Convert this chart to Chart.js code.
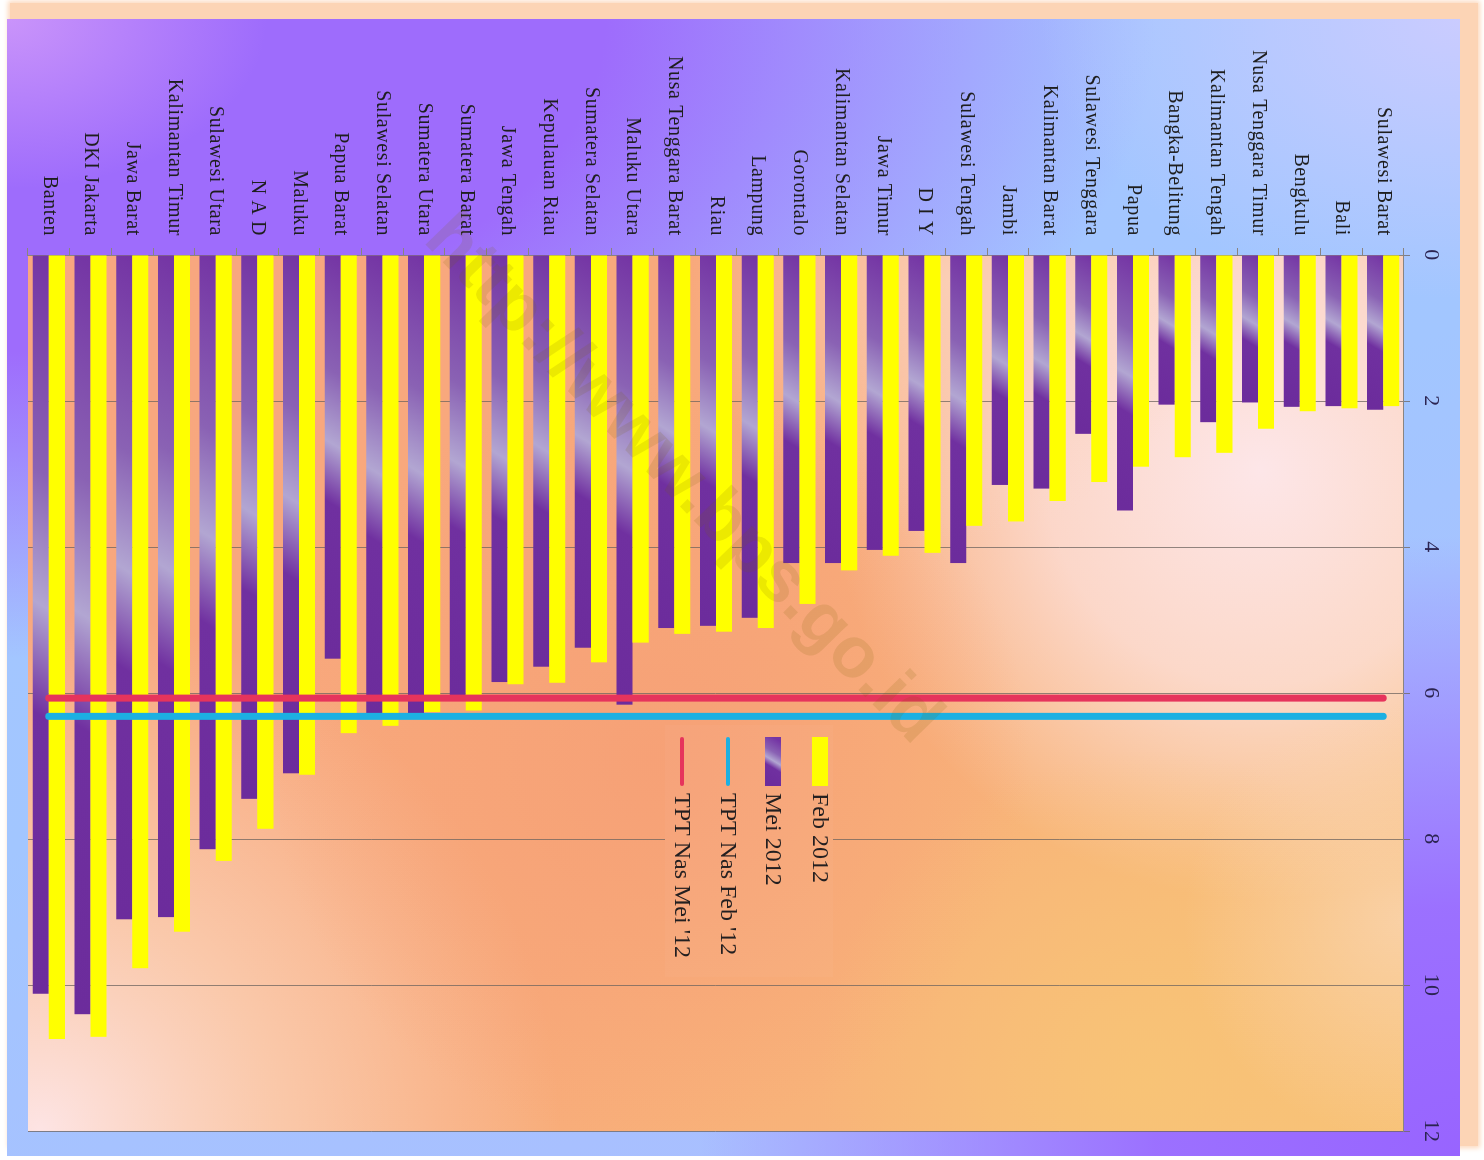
<!DOCTYPE html>
<html>
<head>
<meta charset="utf-8">
<script src="https://cdn.jsdelivr.net/npm/chart.js"></script>
<style>
  html, body { margin: 0; padding: 0; background: #fff; overflow: hidden; width: 1484px; height: 1160px; }
  #shadow { position: absolute; left: 10px; top: 3px; width: 1468px; height: 1143px; background: #fcd4b5; box-shadow: 0 0 5px 2px #fcd8bc; }
  #bg {
    position: absolute; left: 7px; top: 19px; width: 1453px; height: 1137px;
    background:
      radial-gradient(ellipse 260px 170px at 0% 0%, rgba(204,150,250,0.95), rgba(204,150,250,0)),
      radial-gradient(ellipse 420px 280px at 100% 0%, rgba(204,204,255,0.95), rgba(204,204,255,0)),
      radial-gradient(ellipse 1150px 640px at 0% 0%, rgba(158,108,252,1) 0%, rgba(158,108,252,1) 52%, rgba(158,108,252,0) 100%),
      radial-gradient(ellipse 760px 620px at 100% 100%, rgba(152,100,255,1) 0%, rgba(154,104,255,0.9) 40%, rgba(154,104,255,0) 100%),
      linear-gradient(160deg, #a6c6ff 0%, #a2c6ff 50%, #acbcff 100%);
  }
  #wrap { position: absolute; left: 0; top: 0; width: 1160px; height: 1484px; transform-origin: 0 0; transform: translate(1484px, 0) rotate(90deg); }
</style>
</head>
<body>
<div id="shadow"></div>
<div id="bg"></div>
<div id="wrap"><canvas id="myChart" width="1160" height="1484"></canvas></div>
<script>
const regions = ['Banten', 'DKI Jakarta', 'Jawa Barat', 'Kalimantan Timur', 'Sulawesi Utara', 'N A D', 'Maluku',
  'Papua Barat', 'Sulawesi Selatan', 'Sumatera Utara', 'Sumatera Barat', 'Jawa Tengah', 'Kepulauan Riau',
  'Sumatera Selatan', 'Maluku Utara', 'Nusa Tenggara Barat', 'Riau', 'Lampung', 'Gorontalo', 'Kalimantan Selatan',
  'Jawa Timur', 'D I Y', 'Sulawesi Tengah', 'Jambi', 'Kalimantan Barat', 'Sulawesi Tenggara', 'Papua',
  'Bangka-Belitung', 'Kalimantan Tengah', 'Nusa Tenggara Timur', 'Bengkulu', 'Bali', 'Sulawesi Barat']

const feb2012 = [10.74, 10.71, 9.77, 9.27, 8.30, 7.86, 7.12, 6.55, 6.45, 6.26, 6.24, 5.88, 5.86, 5.58, 5.31, 5.19, 5.16,
  5.11, 4.78, 4.32, 4.12, 4.08, 3.71, 3.65, 3.37, 3.11, 2.90, 2.77, 2.71, 2.38, 2.14, 2.10, 2.07]
const mei2012 = [10.12, 10.40, 9.10, 9.07, 8.14, 7.45, 7.10, 5.53, 6.30, 6.28, 6.08, 5.85, 5.64, 5.38, 6.16, 5.11, 5.08,
  4.97, 4.22, 4.22, 4.04, 3.78, 4.22, 3.15, 3.20, 2.45, 3.50, 2.05, 2.29, 2.02, 2.08, 2.07, 2.12]

const tptNasFeb = 6.32
const tptNasMei = 6.07
const valueTicks = [0, 2, 4, 6, 8, 10, 12]

const yellowColor = '#ffff00'
const purpleColor = '#7030a0'
const blueLineColor = '#1cb0e2'
const redLineColor = '#e6345c'
const gridColor = 'rgba(110, 100, 95, 0.75)'
const axisColor = '#8a8480'
const serif = '"Liberation Serif", "Times New Roman", serif'

// the canvas is drawn upright and turned a quarter turn by css
const H = 1484

function purpleFill(ctx, x0, x1, yc) {
  const len = x1 - x0
  const k = 0.6
  const a = len / (1 + k * k)
  const g = ctx.createLinearGradient(x0, yc, x0 + a, yc + k * a)
  g.addColorStop(0, '#7434a4')
  g.addColorStop(0.3, '#8a62b4')
  g.addColorStop(0.48, '#b2a6d2')
  g.addColorStop(0.63, '#7030a0')
  g.addColorStop(1, '#6c2c9c')
  return g
}

function meiBackground(context) {
  const chart = context.chart
  if (context.type !== 'data' || !chart.chartArea) return purpleColor
  const xs = chart.scales.x
  const ys = chart.scales.y
  return purpleFill(chart.ctx, xs.getPixelForValue(0), xs.getPixelForValue(context.raw), ys.getPixelForValue(context.dataIndex))
}

function radial(ctx, x, y, r, stops) {
  const g = ctx.createRadialGradient(x, y, 0, x, y, r)
  stops.forEach(s => g.addColorStop(s[0], s[1]))
  return g
}

// paints the plot background in screen coordinates, clipped to a screen rect
function paintPlot(chart, clipX, clipY, clipW, clipH) {
  const ctx = chart.ctx
  const area = chart.chartArea
  const X0 = H - area.bottom, X1 = H - area.top, Y0 = area.left, Y1 = area.right
  ctx.save()
  ctx.transform(0, -1, 1, 0, 0, H)
  ctx.beginPath()
  ctx.rect(clipX, clipY, clipW, clipH)
  ctx.clip()
  const base = ctx.createLinearGradient(X0, Y0, X1, Y1)
  base.addColorStop(0, '#f8a680')
  base.addColorStop(0.5, '#f8aa7a')
  base.addColorStop(1, '#f8c278')
  ctx.fillStyle = base
  ctx.fillRect(X0, Y0, X1 - X0, Y1 - Y0)
  const layers = [
    [1260, 470, 430, [[0, 'rgba(253,230,232,1)'], [0.5, 'rgba(253,228,228,0.75)'], [1, 'rgba(253,228,228,0)']]],
    [950, 280, 260, [[0, 'rgba(251,212,190,0.8)'], [1, 'rgba(251,212,190,0)']]],
    [40, 1131, 520, [[0, 'rgba(253,228,228,1)'], [0.45, 'rgba(251,214,190,0.7)'], [1, 'rgba(251,214,190,0)']]],
    [650, 760, 380, [[0, 'rgba(246,160,118,0.9)'], [1, 'rgba(246,160,118,0)']]],
    [1150, 1080, 330, [[0, 'rgba(248,196,118,0.9)'], [1, 'rgba(248,196,118,0)']]],
    [1404, 920, 220, [[0, 'rgba(250,216,184,0.7)'], [1, 'rgba(250,216,184,0)']]]
  ]
  layers.forEach(l => {
    ctx.fillStyle = radial(ctx, l[0], l[1], l[2], l[3])
    ctx.fillRect(X0, Y0, X1 - X0, Y1 - Y0)
  })
  ctx.restore()
}

const legendBox = { x: 725, y: 651, w: 252, h: 168 }
const legendRows = [664, 711, 756, 802]

const decorPlugin = {
  id: 'decor',
  beforeDraw(chart) {
    const a = chart.chartArea
    paintPlot(chart, H - a.bottom, a.left, a.bottom - a.top, a.right - a.left)
    chart.ctx.letterSpacing = '0.6px'
  },
  afterDraw(chart) {
    const ctx = chart.ctx
    ctx.letterSpacing = '0px'
    // legend patch
    paintPlot(chart, H - legendBox.y - legendBox.h, legendBox.x, legendBox.h, legendBox.w)
    ctx.save()
    ctx.fillStyle = 'rgba(255,255,255,0.03)'
    ctx.fillRect(legendBox.x, legendBox.y, legendBox.w, legendBox.h)
    chart.data.datasets.forEach((ds, i) => {
      const yc = legendRows[i]
      const kx0 = 737, kx1 = 786
      if (ds.type === 'line') {
        ctx.strokeStyle = ds.borderColor
        ctx.lineWidth = 4
        ctx.lineCap = 'round'
        ctx.beginPath()
        ctx.moveTo(kx0 + 2, yc)
        ctx.lineTo(kx1 - 2, yc)
        ctx.stroke()
      } else {
        ctx.fillStyle = i === 1 ? purpleFill(ctx, kx0, kx1, yc) : ds.backgroundColor
        ctx.fillRect(kx0, yc - 8, kx1 - kx0, 16)
      }
      ctx.fillStyle = '#231f20'
      ctx.font = '24px ' + serif
      ctx.textAlign = 'left'
      ctx.textBaseline = 'middle'
      ctx.fillText(ds.label, 793, yc + 1)
    })
    ctx.restore()

    // watermark
    ctx.save()
    ctx.transform(0, -1, 1, 0, 0, H)
    ctx.translate(682, 480)
    ctx.rotate(45.8 * Math.PI / 180)
    ctx.font = 'bold 72px "Liberation Sans", Arial, sans-serif'
    ctx.fillStyle = 'rgba(120, 100, 0, 0.14)'
    ctx.textAlign = 'center'
    ctx.textBaseline = 'middle'
    ctx.fillText('http://www.bps.go.id', 0, 0)
    ctx.restore()
  }
}

const ctx = document.getElementById('myChart')

new Chart(ctx, {
  type: 'bar',
  data: {
    labels: regions,
    datasets: [
      { label: 'Feb 2012', data: feb2012, backgroundColor: yellowColor, categoryPercentage: 0.77, barPercentage: 1, order: 2 },
      { label: 'Mei 2012', data: mei2012, backgroundColor: meiBackground, categoryPercentage: 0.77, barPercentage: 1, order: 2 },
      {
        type: 'line', label: "TPT Nas Feb '12", indexAxis: 'y',
        data: [{ x: tptNasFeb, y: regions[0] }, { x: tptNasFeb, y: regions[regions.length - 1] }],
        borderColor: blueLineColor, borderWidth: 7, borderCapStyle: 'round', pointRadius: 0, order: 1
      },
      {
        type: 'line', label: "TPT Nas Mei '12", indexAxis: 'y',
        data: [{ x: tptNasMei, y: regions[0] }, { x: tptNasMei, y: regions[regions.length - 1] }],
        borderColor: redLineColor, borderWidth: 7, borderCapStyle: 'round', pointRadius: 0, order: 1
      }
    ]
  },
  options: {
    indexAxis: 'y',
    responsive: false,
    animation: false,
    layout: { padding: { left: 0, top: 0, right: 29, bottom: 28 } },
    plugins: { legend: { display: false }, tooltip: { enabled: false } },
    scales: {
      x: {
        type: 'linear', position: 'top', min: 0, max: 12,
        afterBuildTicks: scale => { scale.ticks = valueTicks.map(v => ({ value: v })) },
        afterFit: scale => { scale.height = 80 },
        ticks: { font: { family: serif, size: 22 }, color: '#2b2452', padding: 8 },
        grid: { color: gridColor, tickLength: 6 },
        border: { display: true, color: axisColor }
      },
      y: {
        type: 'category', reverse: true, offset: true,
        afterFit: scale => { scale.width = 255 },
        ticks: { autoSkip: false, font: { family: serif, size: 20 }, color: '#1e1e1e', padding: 12 },
        grid: { offset: true, drawOnChartArea: false, tickLength: 7, color: axisColor },
        border: { display: true, color: axisColor }
      }
    }
  },
  plugins: [decorPlugin]
})
</script>
</body>
</html>
